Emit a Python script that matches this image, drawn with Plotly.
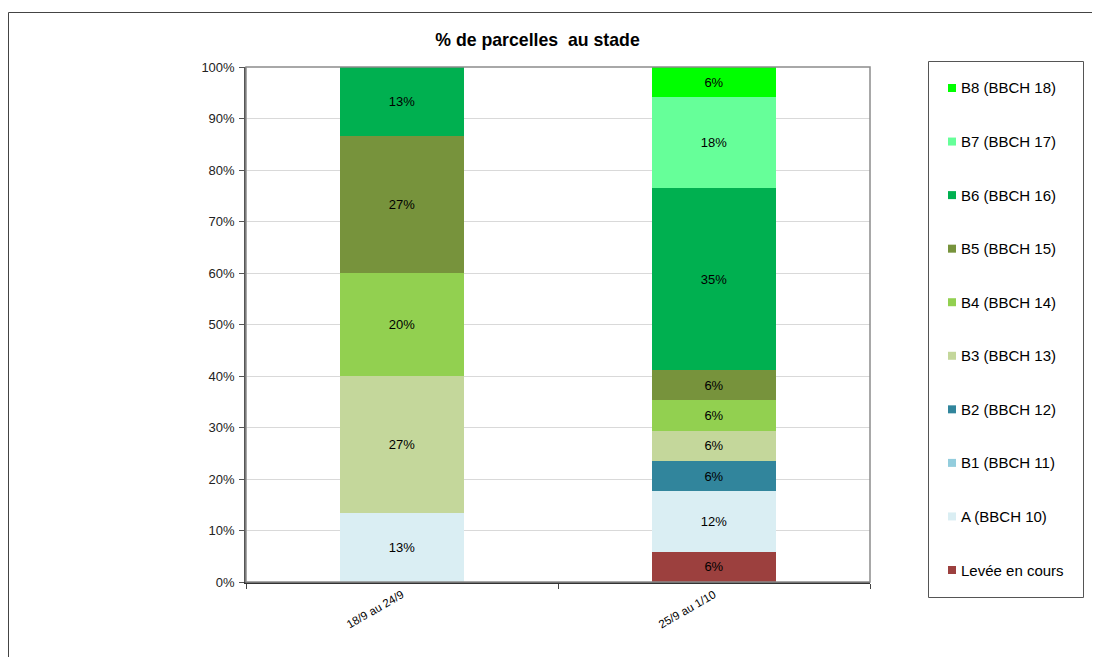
import plotly.graph_objects as go

categories = ["18/9 au 24/9", "25/9 au 1/10"]

series_names = ["Levée en cours", "A (BBCH 10)", "B1 (BBCH 11)", "B2 (BBCH 12)",
                "B3 (BBCH 13)", "B4 (BBCH 14)", "B5 (BBCH 15)", "B6 (BBCH 16)",
                "B7 (BBCH 17)", "B8 (BBCH 18)"]

levee = [None, 5.88]
stade_a = [13.33, 11.76]
b1 = [None, None]
b2 = [None, 5.88]
b3 = [26.67, 5.88]
b4 = [20.0, 5.88]
b5 = [26.67, 5.88]
b6 = [13.33, 35.29]
b7 = [None, 17.65]
b8 = [None, 5.88]

series_values = [levee, stade_a, b1, b2, b3, b4, b5, b6, b7, b8]

colors = ["#9C403E", "#DAEEF3", "#93CDDD", "#31859C", "#C4D79B",
          "#92D050", "#77933C", "#00B050", "#66FF99", "#00FF00"]

y_tickvals = [0, 10, 20, 30, 40, 50, 60, 70, 80, 90, 100]
y_ticktext = ["0%", "10%", "20%", "30%", "40%", "50%", "60%", "70%", "80%", "90%", "100%"]

FONT = "Liberation Sans, Arial, sans-serif"

W, H = 1092, 649
L, R, T, B = 238, 230, 59, 75
PW = W - L - R
PH = H - T - B


def px(fx):
    return (fx - L) / PW


def py(fy):
    return (H - B - fy) / PH


fig = go.Figure()
for name, vals, col in zip(series_names, series_values, colors):
    fig.add_trace(go.Bar(
        x=categories, y=vals, name=name,
        marker=dict(color=col, line=dict(width=0)),
        texttemplate="%{y:.0f}%", textposition="inside",
        insidetextanchor="middle",
        textfont=dict(family=FONT, size=13, color="#000000"),
        showlegend=False,
    ))

fig.update_layout(
    barmode="stack",
    bargap=0.6,
    width=W, height=H,
    margin=dict(l=L, r=R, t=T, b=B),
    paper_bgcolor="white", plot_bgcolor="white",
    font=dict(family=FONT, size=13, color="#000000"),
    title=dict(text="<b>% de parcelles  au stade</b>", x=529.5 / W, xanchor="center",
               xref="container", y=1 - 32 / H, yref="container", yanchor="middle",
               font=dict(family=FONT, size=17.7, color="#000000")),
    uniformtext=dict(mode="show", minsize=8),
    showlegend=False,
)

# plot-area top/right border (lighter grey, as in the original)
fig.add_shape(type="rect", xref="paper", yref="paper", x0=0, x1=1, y0=0, y1=1,
              line=dict(color="#8C8C8C", width=1.5), fillcolor="rgba(0,0,0,0)",
              layer="above")

fig.update_yaxes(
    range=[0, 100], tickvals=y_tickvals, ticktext=y_ticktext,
    showgrid=True, gridcolor="#D9D9D9", gridwidth=1,
    showline=True, linecolor="#555555", linewidth=1.5,
    ticks="outside", ticklen=5, tickcolor="#555555",
    ticklabelstandoff=2,
    tickfont=dict(family=FONT, size=13, color="#222222"),
    zeroline=False,
)
fig.update_xaxes(
    showline=True, linecolor="#333333", linewidth=1.5,
    ticks="outside", ticklen=5, tickcolor="#444444", tickson="boundaries",
    tickangle=-30,
    tickfont=dict(family=FONT, size=11.5, color="#000000"),
)

# outer chart frame
fig.add_shape(type="rect", xref="paper", yref="paper",
              x0=px(0.5), x1=px(W + 10), y0=py(H + 10), y1=py(4.5),
              line=dict(color="#444444", width=1), fillcolor="rgba(0,0,0,0)",
              layer="below")

# legend box (drawn manually to match the original layout)
fig.add_shape(type="rect", xref="paper", yref="paper",
              x0=px(920.5), x1=px(1075.5), y0=py(589.5), y1=py(53.5),
              line=dict(color="#555555", width=1), fillcolor="white")

legend_order = list(range(len(series_names)))[::-1]
step = (570 - 88) / 9
for i, idx in enumerate(legend_order):
    cy = 80 + i * step
    fig.add_shape(type="rect", xref="paper", yref="paper",
                  x0=px(940), x1=px(948), y0=py(cy + 4), y1=py(cy - 4),
                  line=dict(width=0), fillcolor=colors[idx])
    fig.add_annotation(xref="paper", yref="paper", x=px(951), y=py(cy),
                       xanchor="left", yanchor="middle", showarrow=False,
                       text=series_names[idx],
                       font=dict(family=FONT, size=15, color="#000000"))

fig.write_html("out.html")
